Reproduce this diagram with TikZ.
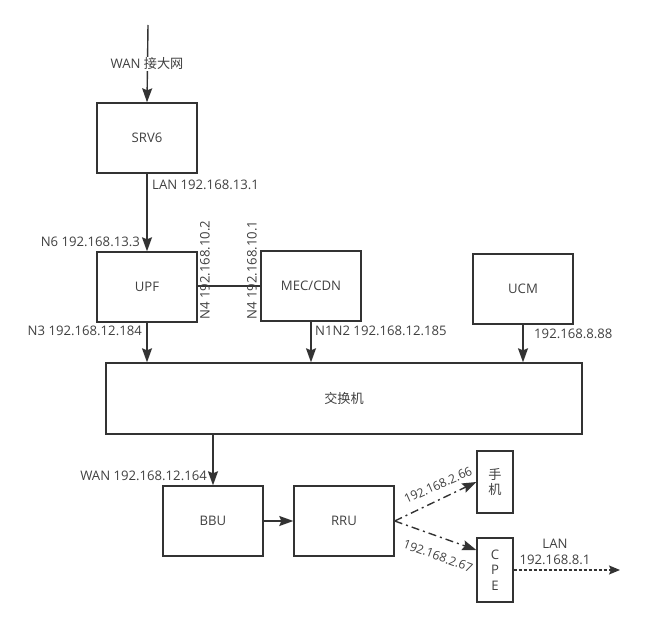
\documentclass[tikz,border=0pt]{standalone}
\usepackage{fontspec}
\setmainfont{Open Sans}
\newfontfamily\cjk{Noto Sans CJK SC}
\usetikzlibrary{arrows.meta}
\definecolor{linegray}{HTML}{333333}
\definecolor{txtgray}{HTML}{404040}

\begin{document}
\begin{tikzpicture}[x=1bp,y=-1bp,
		box/.style={draw=linegray,line width=1.4bp,minimum width=100bp,minimum height=70bp,inner sep=0pt,text=txtgray,font=\fontsize{13.2}{15.5}\selectfont},
		lbl/.style={text=txtgray,inner sep=1bp,font=\fontsize{13.2}{15.5}\selectfont},
		arr/.style={draw=linegray,line width=1.4bp,-{Stealth[length=14bp,width=10bp,inset=2bp]}},
		radio/.style={arr,dash pattern=on 8bp off 4bp on 2bp off 4bp},
		lanline/.style={arr,dash pattern=on 3bp off 2bp,-{Stealth[length=11bp,width=9bp,inset=2bp]}}]
		\useasboundingbox (0,0) rectangle (669,627);
		% boxes
		\node[box] (srv) at (147,138) {SRV6};
		\node[box] (upf) at (147,287) {UPF};
		\node[box] (mec) at (311,286) {MEC/CDN};
		\node[box] (ucm) at (523,289) {UCM};
		\node[box,minimum width=476bp,minimum height=71bp] (sw) at (344,398.5) {{\cjk 交换机}};
		\node[box] (bbu) at (213,521) {BBU};
		\node[box] (rru) at (344,521) {RRU};
		\node[box,minimum width=36bp,minimum height=62bp,align=center] (phone) at (495,482) {{\cjk 手}\\{\cjk 机}};
		\node[box,minimum width=36bp,minimum height=64bp,align=center] (cpe) at (495,570) {C\\P\\E};
		\coordinate (wan) at (148,25);
		\coordinate (lan) at (620,570);
		% links
		\draw[arr] (wan) -- (srv.south |- srv.north) ;
		\node[lbl,fill=white] (wanlbl) at (147,64) {WAN {\cjk 接大网}};
		\draw[arr] (srv) -- (upf);
		\node[lbl,anchor=west] (lan1) at (151,185) {LAN 192.168.13.1};
		\node[lbl,anchor=east] (n6) at (141,242) {N6 192.168.13.3};
		\draw[linegray,line width=1.4bp] (upf.east |- mec.west) -- (mec.west);
		\node[lbl,rotate=90,anchor=west] (n4a) at (205,321) {N4 192.168.10.2};
		\node[lbl,rotate=90,anchor=west] (n4b) at (252,321) {N4 192.168.10.1};
		\draw[arr] (upf.south) -- (upf.south |- sw.north);
		\node[lbl,anchor=east] (n3) at (143,331) {N3 192.168.12.184};
		\draw[arr] (mec.south) -- (mec.south |- sw.north);
		\node[lbl,anchor=west] (n1n2) at (314,331) {N1N2 192.168.12.185};
		\draw[arr] (ucm.south) -- (ucm.south |- sw.north);
		\node[lbl,anchor=west] (ucmip) at (533,334) {192.168.8.88};
		\draw[arr] (sw.south -| bbu.north) -- (bbu.north);
		\node[lbl,anchor=east] (wan2) at (208,476) {WAN 192.168.12.164};
		\draw[arr] (bbu) -- (rru);
		% radio side
		\draw[radio] (rru.east) -- (phone.west);
		\draw[radio] (rru.east) -- ([yshift=20bp]cpe.west);
		\node[lbl,rotate=24,font=\fontsize{12.3}{14}\selectfont] (ip66) at (438,485) {192.168.2.66};
		\node[lbl,rotate=-20,font=\fontsize{12.3}{14}\selectfont] (ip67) at (438,556) {192.168.2.67};
		\draw[lanline] (cpe.east) -- (lan);
		\node[lbl,align=center] (lanlbl) at (555,552) {LAN\\192.168.8.1};
\end{tikzpicture}
\end{document}
